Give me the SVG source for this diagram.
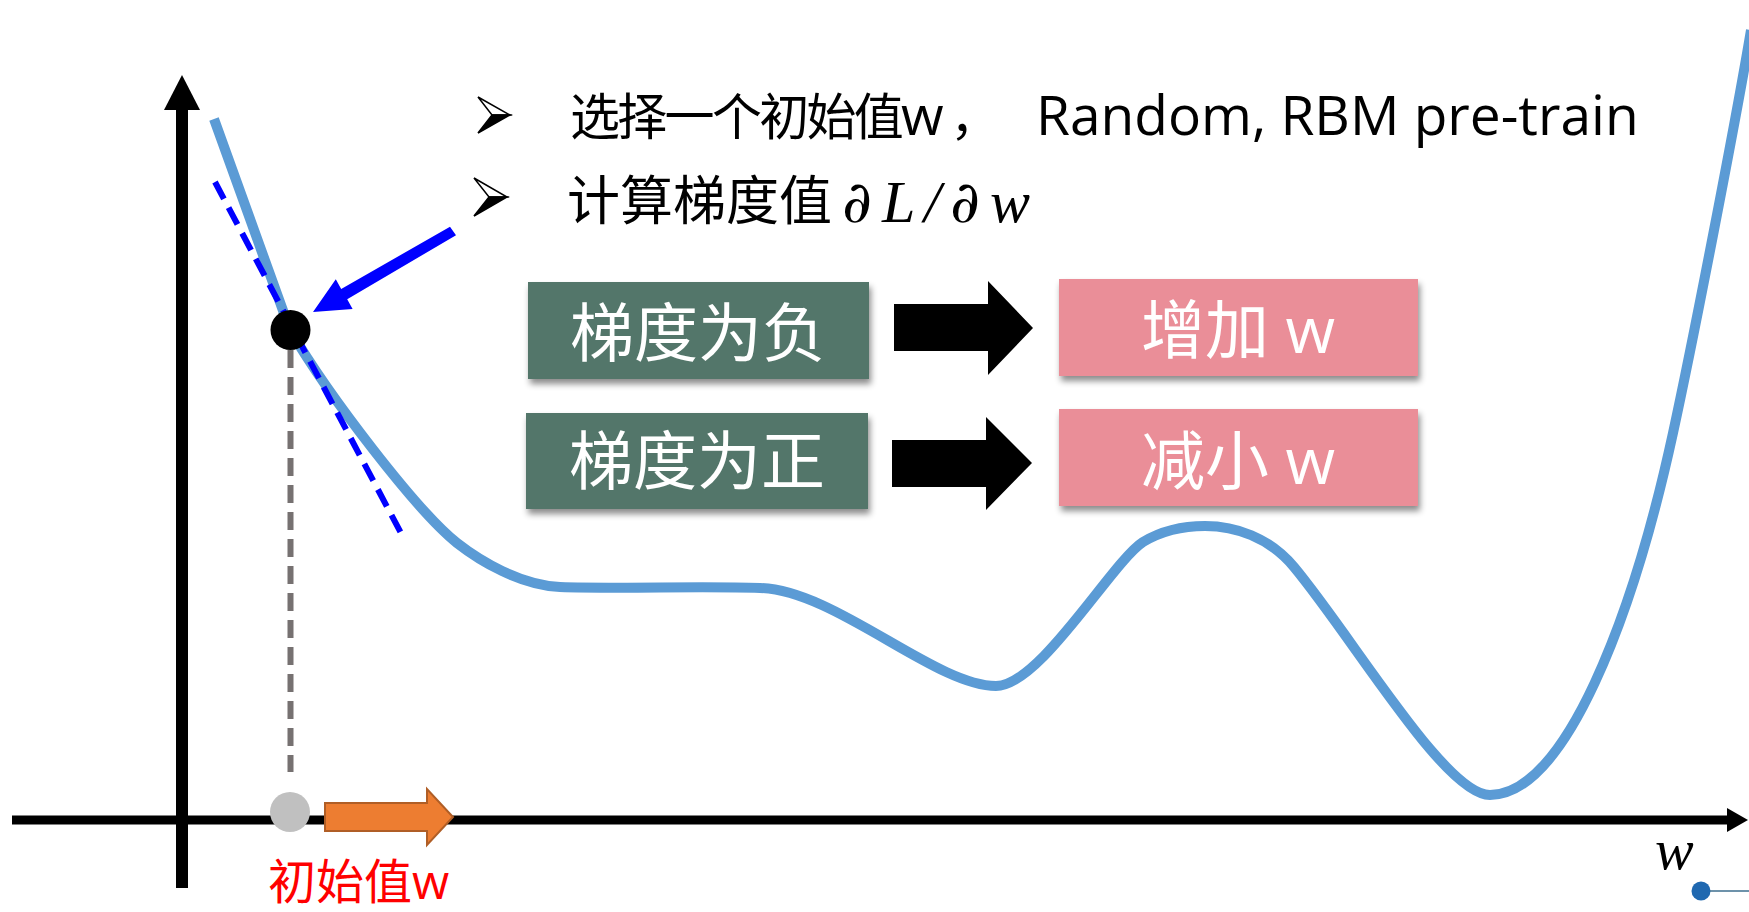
<svg xmlns="http://www.w3.org/2000/svg" width="1749" height="912" viewBox="0 0 1749 912">
<style>
.cjk{font-family:"Open Sans","Noto Sans CJK SC",sans-serif}
.box-text{font-family:"Open Sans","Noto Sans CJK SC",sans-serif;font-size:64px;fill:#ffffff;text-anchor:middle}
.math{font-family:"Liberation Serif","DejaVu Serif",serif;font-style:italic}
.bul-top{fill:#ffffff;stroke:#000;stroke-width:1.5;stroke-linejoin:miter}
.bul-bot{fill:#000;stroke:#000;stroke-width:1.5;stroke-linejoin:miter}
.green{fill:#52766A}
.pink{fill:#EA8E98}
.block{fill:#000}
</style>
<defs>
<filter id="sh" x="-10%" y="-20%" width="125%" height="150%">
<feDropShadow dx="2" dy="5" stdDeviation="3" flood-color="#000" flood-opacity="0.45"/>
</filter>
</defs>
<rect width="1749" height="912" fill="#ffffff"/>

<g id="axes">
<rect x="176" y="108" width="12" height="780" fill="#000"/>
<polygon points="182,75 200,110 164,110" fill="#000"/>
<rect x="12" y="815.5" width="1717" height="9" fill="#000"/>
<polygon points="1727,808 1748,820 1727,832" fill="#000"/>
<text x="1655" y="869" class="math" font-size="58">w</text>
<circle cx="1701" cy="891" r="9.5" fill="#1F68B0"/>
<line x1="1710" y1="891" x2="1749" y2="891" stroke="#3D6E8E" stroke-width="1.5"/>
</g>

<g id="guide">
<line x1="290.5" y1="350" x2="290.5" y2="772" stroke="#767171" stroke-width="6" stroke-dasharray="18 9"/>
</g>

<g id="loss-curve">
<path d="M214,119 L290,330 C330,398 417,511 457,543 C480,561 520,585 560,587 C620,589 700,586 760,588 C835,590 935,686 996,686 C1040,686 1112,562 1143,542 C1163,530 1185,526 1205,526 C1235,526 1269,537 1294,567 C1354,639 1445,795 1490,795 C1565,795 1633,617 1673,433 C1693,341 1736,120 1751,30" fill="none" stroke="#5B9BD5" stroke-width="10" stroke-linejoin="round"/>
</g>

<g id="tangent">
<line x1="215" y1="182" x2="402" y2="535" stroke="#0000FF" stroke-width="6" stroke-dasharray="19 10"/>
</g>

<g id="point">
<circle cx="290.5" cy="330" r="20" fill="#000"/>
</g>

<g id="pointer">
<polygon points="456,235.2 347.2,299.3 352.6,308.9 313,312 335.8,279.3 341.2,288.9 450,226.8" fill="#0000FF"/>
</g>

<g id="init-point">
<circle cx="290" cy="812" r="20" fill="#C0C0C0"/>
<polygon points="325,803 427,803 427,789 453,817 427,845 427,831 325,831" fill="#ED7D31" stroke="#B05E26" stroke-width="2" stroke-linejoin="miter"/>
<text x="268" y="899" class="cjk" font-size="48" fill="#FF0000">初始值w</text>
</g>

<g id="bullets">
<polygon class="bul-top" points="478,97 510,115 492,115"/>
<polygon class="bul-bot" points="492,115 510,115 478,133"/>
<text class="cjk" y="135" fill="#000"><tspan x="570" font-size="50" letter-spacing="-2.7">选择一个初始值</tspan><tspan x="901" font-size="55">w</tspan><tspan x="950" font-size="50">，</tspan><tspan x="1036" font-size="55">Random, RBM pre-train</tspan></text>
<polygon class="bul-top" points="474,178 507,197 489,197"/>
<polygon class="bul-bot" points="489,197 507,197 474,216"/>
<text x="567" y="220" class="cjk" font-size="53" fill="#000">计算梯度值</text>
<text y="222" class="math" font-size="60" fill="#000"><tspan x="842" font-family="DejaVu Serif" font-size="58">∂</tspan><tspan x="882">L</tspan><tspan x="924">/</tspan><tspan x="950" font-family="DejaVu Serif" font-size="58">∂</tspan><tspan x="990">w</tspan></text>
</g>

<g id="node-neg">
<rect x="528" y="282" width="341" height="97" class="green" filter="url(#sh)"/>
<text x="698" y="356" class="box-text">梯度为负</text>
</g>
<g id="node-pos">
<rect x="526" y="413" width="342" height="96" class="green" filter="url(#sh)"/>
<text x="697" y="484" class="box-text">梯度为正</text>
</g>
<g id="node-inc">
<rect x="1059" y="279" width="359" height="97" class="pink" filter="url(#sh)"/>
<text x="1238" y="353" class="box-text">增加 w</text>
</g>
<g id="node-dec">
<rect x="1059" y="409" width="359" height="97" class="pink" filter="url(#sh)"/>
<text x="1238" y="484" class="box-text">减小 w</text>
</g>

<g id="connectors">
<polygon class="block" points="894,304 988,304 988,281 1033,328 988,375 988,351 894,351"/>
<polygon class="block" points="892,440 986,440 986,417 1032,463 986,510 986,487 892,487"/>
</g>
</svg>
